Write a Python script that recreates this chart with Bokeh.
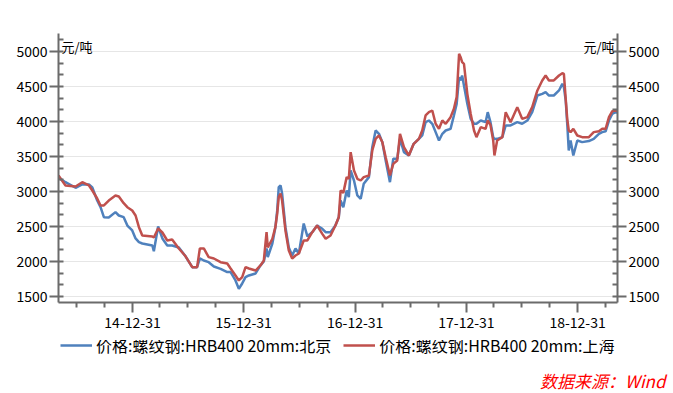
import pandas as pd
from bokeh.plotting import figure
from bokeh.layouts import column
from bokeh.models import (LinearAxis, Range1d, SingleIntervalTicker, FixedTicker,
                          Legend, LegendItem, Label, Title, DatetimeTickFormatter)
from bokeh.embed import file_html
from bokeh.resources import INLINE

# ---------------- data ----------------
dates = [
    "2014-05-02", "2014-05-25", "2014-06-27", "2014-07-19", "2014-08-10", "2014-08-21",
    "2014-09-06", "2014-09-17", "2014-09-28", "2014-10-14", "2014-11-05", "2014-11-16",
    "2014-12-02", "2014-12-14", "2014-12-30", "2015-01-10", "2015-01-21", "2015-02-01",
    "2015-03-06", "2015-03-11", "2015-03-25", "2015-04-08", "2015-04-24", "2015-05-10",
    "2015-06-01", "2015-06-21", "2015-07-15", "2015-07-31", "2015-08-09", "2015-08-22",
    "2015-09-07", "2015-09-24", "2015-10-16", "2015-11-07", "2015-11-18", "2015-12-04",
    "2015-12-15", "2015-12-26", "2016-01-06", "2016-01-17", "2016-02-08", "2016-02-24",
    "2016-03-06", "2016-03-15", "2016-03-19", "2016-04-03", "2016-04-13", "2016-04-19",
    "2016-04-24", "2016-04-30", "2016-05-05", "2016-05-16", "2016-05-27", "2016-06-07",
    "2016-06-18", "2016-06-29", "2016-07-15", "2016-07-27", "2016-08-12", "2016-08-28",
    "2016-09-14", "2016-09-25", "2016-10-11", "2016-10-27", "2016-11-07", "2016-11-13",
    "2016-11-22", "2016-12-03", "2016-12-10", "2016-12-16", "2016-12-27", "2017-01-07",
    "2017-01-18", "2017-01-28", "2017-02-14", "2017-02-25", "2017-03-08", "2017-03-19",
    "2017-03-30", "2017-04-10", "2017-04-24", "2017-05-05", "2017-05-18", "2017-05-27",
    "2017-06-09", "2017-06-25", "2017-07-11", "2017-07-28", "2017-08-08", "2017-08-19",
    "2017-08-30", "2017-09-10", "2017-09-21", "2017-10-02", "2017-10-13", "2017-10-24",
    "2017-11-09", "2017-11-20", "2017-11-29", "2017-12-07", "2017-12-12", "2017-12-17",
    "2017-12-23", "2018-01-03", "2018-01-14", "2018-01-25", "2018-02-02", "2018-02-16",
    "2018-03-04", "2018-03-11", "2018-03-20", "2018-03-29", "2018-04-02", "2018-04-11",
    "2018-04-28", "2018-05-09", "2018-05-25", "2018-06-16", "2018-07-02", "2018-07-19",
    "2018-08-04", "2018-08-21", "2018-09-06", "2018-09-17", "2018-09-28", "2018-10-14",
    "2018-10-31", "2018-11-11", "2018-11-16", "2018-11-22", "2018-11-27", "2018-12-02",
    "2018-12-08", "2018-12-17", "2018-12-30", "2019-01-15", "2019-02-06", "2019-02-22",
    "2019-03-11", "2019-03-22", "2019-04-02", "2019-04-13", "2019-04-24", "2019-05-04",
    "2019-05-11",
]

beijing = [
    3200, 3133, 3053, 3100, 3100, 3057,
    2871, 2776, 2633, 2628, 2705, 2657,
    2633, 2514, 2443, 2329, 2276, 2257,
    2229, 2147, 2500, 2329, 2229, 2229,
    2200, 2086, 1919, 1919, 2043, 2014,
    1990, 1929, 1895, 1848, 1848, 1729,
    1610, 1686, 1776, 1800, 1829, 1943,
    2000, 2186, 2062, 2257, 2490, 2729,
    3062, 3086, 2971, 2490, 2200, 2086,
    2186, 2114, 2543, 2360, 2419, 2514,
    2467, 2419, 2419, 2514, 2633, 2871,
    2776, 3014, 2919, 3300, 3157, 2943,
    2895, 3110, 3205, 3633, 3871, 3824,
    3705, 3443, 3133, 3467, 3467, 3752,
    3562, 3514, 3681, 3752, 3800, 3990,
    4014, 3967, 3848, 3729, 3824, 3871,
    3895, 4086, 4252, 4633, 4586, 4657,
    4514, 4252, 4038, 3967, 3967, 4014,
    3990, 4133, 3990, 3776, 3750, 3752,
    3776, 3943, 3943, 3990, 3967, 4014,
    4133, 4371, 4395, 4419, 4371, 4371,
    4443, 4538, 4490, 4300, 3967, 3586,
    3729, 3514, 3729, 3705, 3720, 3752,
    3824, 3848, 3860, 4014, 4110, 4133,
    4130,
]

shanghai = [
    3229, 3086, 3071, 3133, 3086, 3014,
    2900, 2800, 2800, 2871, 2943, 2929,
    2833, 2776, 2729, 2657, 2490, 2371,
    2357, 2343, 2471, 2414, 2300, 2314,
    2186, 2086, 1919, 1919, 2186, 2186,
    2062, 2043, 1990, 1971, 1900, 1800,
    1729, 1776, 1919, 1900, 1871, 1943,
    2014, 2419, 2200, 2324, 2490, 2686,
    2919, 2971, 2871, 2443, 2157, 2043,
    2086, 2114, 2300, 2300, 2419, 2514,
    2395, 2324, 2371, 2514, 2633, 3014,
    2980, 3205, 3180, 3562, 3300, 3181,
    3157, 3205, 3229, 3586, 3752, 3800,
    3705, 3490, 3229, 3395, 3443, 3824,
    3633, 3514, 3681, 3752, 3871, 4086,
    4133, 4157, 3967, 3895, 4014, 3967,
    4062, 4181, 4348, 4967, 4919, 4848,
    4824, 4395, 4110, 3871, 3776, 3919,
    3895, 4014, 3950, 3729, 3514, 3729,
    3776, 4133, 3990, 4205, 4038, 4062,
    4205, 4443, 4586, 4657, 4586, 4586,
    4657, 4690, 4680, 4324, 4038, 3871,
    3848, 3895, 3800, 3776, 3776, 3848,
    3860, 3895, 3895, 4062, 4148, 4157,
    4150,
]

series_names = ["价格:螺纹钢:HRB400 20mm:北京", "价格:螺纹钢:HRB400 20mm:上海"]
series_colors = ["#4f81bd", "#c0504d"]

x_major_ticks = ["2014-12-31", "2015-12-31", "2016-12-31", "2017-12-31", "2018-12-31"]
x_minor_ticks = [
    "2014-06-30", "2014-09-30", "2015-03-31", "2015-06-30", "2015-09-30",
    "2016-03-31", "2016-06-30", "2016-09-30", "2017-03-31", "2017-06-30",
    "2017-09-30", "2018-03-31", "2018-06-30", "2018-09-30", "2019-03-31",
]
x_start, x_end = "2014-05-02", "2019-05-11"
y_start, y_end = 1414, 5257
unit_text = "元/吨"
source_text = "数据来源：Wind"

FONT = "Noto Sans CJK SC"
W = 673
LW = 2.5


def ms(d):
    return pd.Timestamp(d).value // 10**6


dt = pd.to_datetime(dates)
xr = Range1d(pd.Timestamp(x_start), pd.Timestamp(x_end))

# ---------------- main chart ----------------
p = figure(width=W, height=340, x_axis_type="datetime", x_range=xr,
           y_range=Range1d(y_start, y_end),
           output_backend="svg", toolbar_location=None,
           min_border_left=58, min_border_right=56, min_border_top=33, min_border_bottom=38)
p.outline_line_color = None
p.background_fill_color = "white"
p.border_fill_color = "white"

p.line(dt, beijing, line_color=series_colors[0], line_width=LW)
p.line(dt, shanghai, line_color=series_colors[1], line_width=LW)

xa = p.xaxis[0]
xa.ticker = FixedTicker(ticks=[ms(d) for d in x_major_ticks],
                        minor_ticks=[ms(d) for d in x_minor_ticks])
fmt = "%y-%m-%d"
xa.formatter = DatetimeTickFormatter(milliseconds=fmt, seconds=fmt, minsec=fmt, minutes=fmt,
                                     hourmin=fmt, hours=fmt, days=fmt, months=fmt, years=fmt)

yticker = SingleIntervalTicker(interval=500, num_minor_ticks=3)
ya = p.yaxis[0]
ya.ticker = yticker
ra = LinearAxis(ticker=yticker)
p.add_layout(ra, "right")

for ax in [xa, ya, ra]:
    ax.axis_line_color = "#6b6b6b"
    ax.axis_line_width = 2
    ax.major_tick_line_color = "#6b6b6b"
    ax.minor_tick_line_color = "#6b6b6b"
    ax.major_tick_line_width = 2
    ax.minor_tick_line_width = 2
    ax.major_label_text_font = FONT
    ax.major_label_text_font_size = "14px"
    ax.major_label_text_color = "#000000"
    ax.major_label_standoff = 2

for ax in [ya, ra]:
    ax.major_tick_out = 9
    ax.major_tick_in = 0
    ax.minor_tick_in = 5
    ax.minor_tick_out = 0
xa.major_tick_out = 10
xa.major_tick_in = 0
xa.minor_tick_out = 5
xa.minor_tick_in = 0
xa.major_label_standoff = 4

p.xgrid.visible = False
p.ygrid.ticker = yticker
p.ygrid.grid_line_color = "#e6e6e6"
p.ygrid.grid_line_width = 1

p.add_layout(Label(x=pd.Timestamp(x_start), y=5071, x_offset=3, text=unit_text,
                   text_font=FONT, text_font_size="13px", text_color="#000000",
                   text_baseline="alphabetic", text_align="left"))
p.add_layout(Label(x=pd.Timestamp(x_end), y=5071, x_offset=-3, text=unit_text,
                   text_font=FONT, text_font_size="13px", text_color="#000000",
                   text_baseline="alphabetic", text_align="right"))

# ---------------- legend + source strip (same x scale, series kept off-frame) ----------------
q = figure(width=W, height=53, x_axis_type="datetime", x_range=xr, y_range=Range1d(0, 1),
           output_backend="svg", toolbar_location=None,
           x_axis_location=None, y_axis_location=None,
           min_border_left=58, min_border_right=56, min_border_top=0, min_border_bottom=0)
q.outline_line_color = None
q.grid.visible = False
q.background_fill_color = "white"
q.border_fill_color = "white"

k1 = q.line(dt, beijing, line_color=series_colors[0], line_width=LW)
k2 = q.line(dt, shanghai, line_color=series_colors[1], line_width=LW)
legend = Legend(items=[LegendItem(label=series_names[0], renderers=[k1]),
                       LegendItem(label=series_names[1], renderers=[k2])],
                orientation="horizontal", location=(2, 7),
                border_line_color=None, background_fill_alpha=0,
                label_text_font=FONT, label_text_font_size="16px", label_text_color="#000000",
                glyph_width=32, glyph_height=14, spacing=12, label_standoff=4,
                padding=0, margin=0)
q.add_layout(legend)

q.add_layout(Title(text=source_text, align="right", offset=-48, standoff=2,
                   text_font=FONT, text_font_size="17px", text_font_style="italic",
                   text_color="#ff0000"), "below")

layout = column(p, q, spacing=0)
open("out.html", "w").write(file_html(layout, INLINE))
